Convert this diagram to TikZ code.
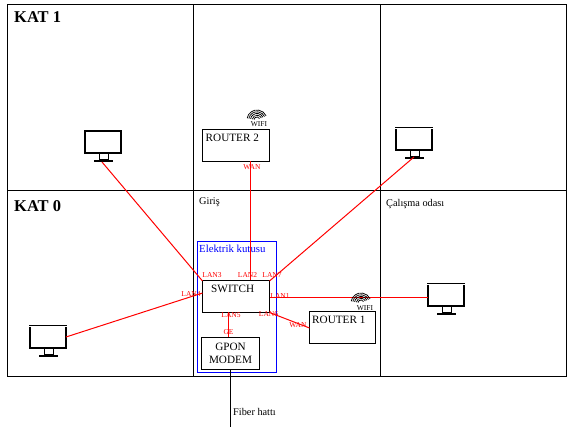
\documentclass[tikz,border=0pt]{standalone}
\usepackage{fontspec}
\setmainfont{Liberation Serif}
\tikzset{
 x=1pt,y=-1pt,
 box/.style={draw=black,line width=1pt,inner sep=0pt,outer sep=0pt,anchor=north west,align=center},
 lan/.style={text=red,font=\fontsize{7.5}{8}\selectfont,inner sep=0pt},
 wire/.style={draw=red,line width=1pt},
 lbl/.style={font=\fontsize{10.3}{11}\selectfont,inner sep=0pt},
 cap1/.style={font=\fontsize{11.2}{12}\selectfont,inner sep=0pt,anchor=west},
 kat/.style={font=\bfseries\fontsize{16.5}{17}\selectfont,inner sep=0pt,anchor=west},
 wl/.style={font=\fontsize{7.5}{8}\selectfont,inner sep=0pt},
 mon/.style={draw=black,line width=2pt,fill=white,inner sep=0pt,outer sep=0pt,minimum width=36pt,minimum height=22pt,anchor=north west}
}
\newcommand{\monitor}[3]{%
 \node[mon] (#1) at (#2+1,#3+1) {};
 \draw[black,line width=1pt,fill=white] (#2+15,#3+24) rectangle (#2+24,#3+30);
 \draw[black,line width=1pt,fill=white] (#2+10,#3+30.5) rectangle (#2+28,#3+31.7);
}
\newcommand{\stripe}[2]{%
 \draw[white,line width=0.6pt] (#1,#2+1.6) -- (#1+38,#2+1.6);
}
\newcommand{\wifi}[2]{%
 \foreach \r in {3,4.75,6.5,8.25,10}{\draw[black,line width=0.8pt,dash pattern=on 1.5pt off 0.35pt] (#1,#2) ++(-170:\r) arc[start angle=-170,end angle=-25,radius=\r];}
}
\begin{document}
\begin{tikzpicture}
\useasboundingbox (0,0) rectangle (574,430);
\fill[white] (0,0) rectangle (574,430);
\draw[black,line width=1pt] (7.5,4.5) rectangle (566.5,377);
\draw[black,line width=1pt] (193.5,4.5) -- (193.5,377);
\draw[black,line width=1pt] (380.5,4.5) -- (380.5,377);
\draw[black,line width=1pt] (7.5,190.5) -- (566.5,190.5);
\node[kat] (k1) at (14,17) {KAT 1};
\node[kat] (k0) at (14,206) {KAT 0};
\node[lbl,anchor=west] (giris) at (199,202) {Giriş};
\node[lbl,anchor=west] (calisma) at (386,204) {Çalışma odası};
\draw[blue,line width=1pt] (197.5,241.5) rectangle (276.5,373);
\node[anchor=west,inner sep=0pt,text=blue,font=\fontsize{10.8}{11}\selectfont] (ek) at (199,248.5) {Elektrik kutusu};
\monitor{m1}{29}{325}
\stripe{29}{325}
\monitor{m2}{84}{130}
\monitor{m3}{395}{127}
\stripe{395}{127}
\monitor{m4}{427}{283}
\stripe{427}{283}
\node[box,minimum width=67pt,minimum height=32pt] (r2) at (202.5,129.5) {};
\node[cap1] (r2t) at (205.5,138) {ROUTER 2};
\node[box,minimum width=67pt,minimum height=32pt] (sw) at (202.5,280.5) {};
\node[cap1] (swt) at (211,289) {SWITCH};
\node[box,minimum width=58pt,minimum height=32pt,font=\fontsize{11.2}{12.5}\selectfont] (gm) at (201.5,337.5) {GPON\\MODEM};
\node[box,minimum width=66pt,minimum height=32pt] (r1) at (309.5,311.5) {};
\node[cap1] (r1t) at (312,320) {ROUTER 1};
\coordinate (fib) at (230.5,427);
\draw[black,line width=1pt] (gm.south -| fib) -- (fib);
\node[lbl,anchor=west] (ft) at (233,412) {Fiber hattı};
\coordinate (p1) at (66,337);
\coordinate (p2) at (202.5,293);
\coordinate (p3) at (102,162);
\coordinate (p4) at (202.5,281);
\coordinate (p5) at (414,157);
\coordinate (p6) at (269.5,281);
\coordinate (p7) at (269.5,297.5);
\coordinate (p8) at (309.5,328);
\coordinate (p9) at (228.5,312);
\path[wire] (p1) -- (p2);
\path[wire] (p3) -- (p4);
\path[wire] (r2.south -| 250.5,0) -- (sw.north -| 250.5,0);
\path[wire] (p5) -- (p6);
\path[wire] (p7) -- (p7 -| m4.west);
\path[wire] (sw.south east) -- (p8);
\path[wire] (p9) -- (p9 |- gm.north);
\node[lan] (l3a) at (212,275.5) {LAN3};
\node[lan] (l2) at (247.5,275.5) {LAN2};
\node[lan] (l7) at (272,275) {LAN7};
\node[lan] (l4) at (191,294) {LAN4};
\node[lan] (l1) at (280,296) {LAN1};
\node[lan] (l6) at (268.5,314) {LAN6};
\node[lan] (l5) at (231,315) {LAN5};
\node[lan] (ge) at (228.5,332) {GE};
\node[lan] (w1) at (298,325.5) {WAN};
\node[lan] (w2) at (252,167) {WAN};
\wifi{257}{120}
\node[wl] (wf2) at (259,124) {WIFI};
\wifi{361}{303}
\node[wl] (wf1) at (365,308) {WIFI};
\end{tikzpicture}
\end{document}
